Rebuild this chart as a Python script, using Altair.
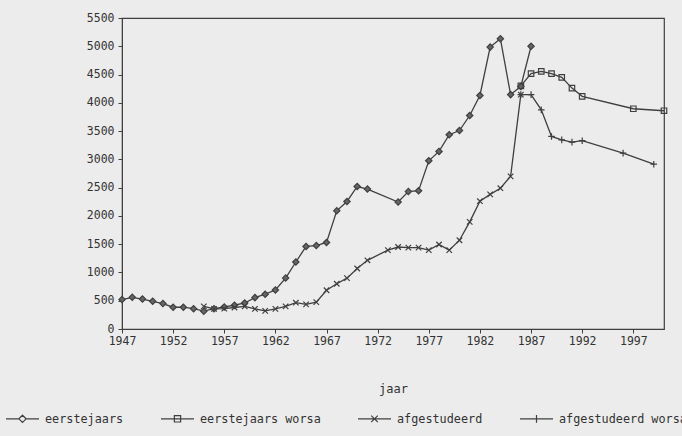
import altair as alt
import pandas as pd

series = ["eerstejaars", "eerstejaars worsa", "afgestudeerd", "afgestudeerd worsa"]

years_e = list(range(1947, 1972)) + list(range(1974, 1988))
vals_e = [520, 560, 530, 490, 450, 385, 385, 360, 315, 360, 390, 420, 460, 555,
          615, 690, 900, 1185, 1460, 1475, 1530, 2090, 2255, 2520, 2475,
          2245, 2430, 2445, 2975, 3140, 3435, 3510, 3775, 4130, 4985, 5135,
          4145, 4290, 5000]

years_ew = [1986, 1987, 1988, 1989, 1990, 1991, 1992, 1997, 2000]
vals_ew = [4300, 4515, 4555, 4515, 4450, 4260, 4115, 3895, 3860]

years_a = list(range(1955, 1972)) + list(range(1973, 1987))
vals_a = [400, 355, 360, 380, 400, 355, 320, 355, 400, 465, 435, 475, 685,
          800, 900, 1070, 1215,
          1395, 1450, 1440, 1440, 1395, 1495, 1395, 1570, 1895, 2260, 2380,
          2490, 2700, 4145]

years_aw = [1986, 1987, 1988, 1989, 1990, 1991, 1992, 1996, 1999]
vals_aw = [4145, 4145, 3875, 3405, 3345, 3305, 3330, 3110, 2915]

x_ticks = list(range(1947, 1998, 5))
y_ticks = list(range(0, 5501, 500))

rows = []
for name, ys, vs in [(series[0], years_e, vals_e), (series[1], years_ew, vals_ew),
                     (series[2], years_a, vals_a), (series[3], years_aw, vals_aw)]:
    for yr, v in zip(ys, vs):
        rows.append({"reeks": name, "jaar": yr, "waarde": v})
df = pd.DataFrame(rows)

FONT = "DejaVu Sans Mono"
INK = "#3f3f3f"

x = alt.X("jaar:Q", scale=alt.Scale(domain=[1947, 2000], nice=False, zero=False),
          axis=alt.Axis(values=x_ticks, format="d", title="jaar", grid=False,
                        tickSize=4, labelFlush=False, titlePadding=37,
                        labelFont=FONT, labelFontSize=11.5, labelColor="#333",
                        titleFont=FONT, titleFontSize=12, titleFontWeight="normal",
                        titleColor="#333", domainColor=INK, tickColor=INK))
y = alt.Y("waarde:Q", scale=alt.Scale(domain=[0, 5500], nice=False),
          axis=alt.Axis(values=y_ticks, format="d", title=None, grid=False, tickSize=4,
                        labelFont=FONT, labelFontSize=11.5, labelColor="#333",
                        labelPadding=4, domainColor=INK, tickColor=INK))

base = alt.Chart(df)

lines = base.mark_line(color=INK, strokeWidth=1.3).encode(x=x, y=y, detail="reeks:N")

diamonds = base.transform_filter(alt.datum.reeks == series[0]).mark_point(
    shape="diamond", filled=True, size=40, fill="#666", stroke=INK, strokeWidth=1.2,
    opacity=1).encode(x=x, y=y)

other_series = series[1:]
other_paths = ["M-1,-1H1V1H-1Z", "M-1,-1L1,1M-1,1L1,-1", "M-1.2,0H1.2M0,-1.2V1.2"]
others = base.transform_filter(
    alt.FieldOneOfPredicate(field="reeks", oneOf=other_series)
).mark_point(filled=False, size=30, color=INK, strokeWidth=1.2, opacity=1).encode(
    x=x, y=y,
    shape=alt.Shape("reeks:N", scale=alt.Scale(domain=other_series, range=other_paths),
                    legend=None))

legend_paths = [
    "M-1,0H-0.22M0.22,0H1M0,-0.22L0.22,0L0,0.22L-0.22,0Z",
    "M-1,0H1M-0.19,-0.19H0.19V0.19H-0.19Z",
    "M-1,0H1M-0.2,-0.2L0.2,0.2M-0.2,0.2L0.2,-0.2",
    "M-1,0H1M0,-0.24V0.24",
]
legend_layer = base.mark_point(opacity=0, filled=False, color=INK).encode(
    x=x, y=y,
    shape=alt.Shape("reeks:N", scale=alt.Scale(domain=series, range=legend_paths),
                    legend=alt.Legend(orient="none", legendX=-117, legendY=383,
                                      direction="horizontal", columns=4,
                                      columnPadding=34, title=None, padding=0,
                                      symbolSize=1089, symbolStrokeWidth=1.2,
                                      symbolStrokeColor=INK,
                                      symbolFillColor="transparent",
                                      symbolOpacity=1, labelFont=FONT,
                                      labelFontSize=11.8, labelColor="#333",
                                      labelOffset=5, labelLimit=400)))

chart = alt.layer(lines, diamonds, others, legend_layer).resolve_scale(
    shape="independent"
).properties(
    width=542, height=311,
    autosize=alt.AutoSizeParams(type="none"),
    padding={"left": 122, "top": 18, "right": 18, "bottom": 107},
    background="#ececec",
).configure_view(stroke=INK, strokeWidth=1.2)

chart.save("out.html", embed_options={"renderer": "svg", "actions": False})
